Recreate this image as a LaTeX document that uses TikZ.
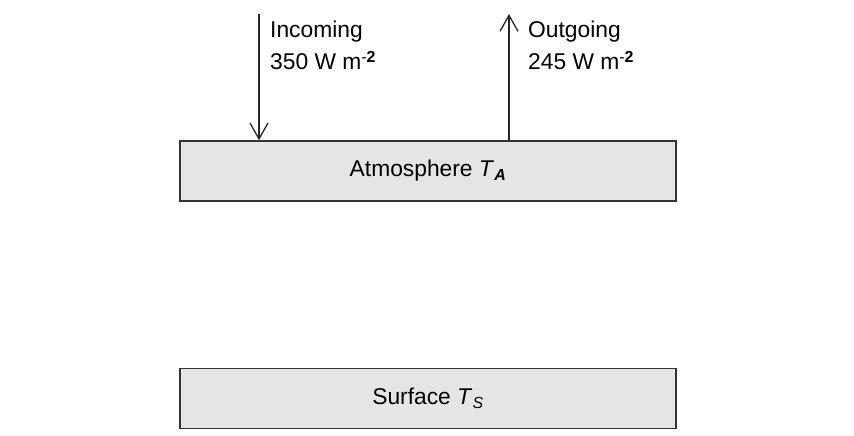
\documentclass[tikz,border=0pt]{standalone}
\usepackage{fontspec}
\setmainfont{Liberation Sans}
\usetikzlibrary{positioning}
\usetikzlibrary{arrows.meta}

\begin{document}
\begin{tikzpicture}[%
    x=1pt, y=-1pt,
    node distance=166pt,
    font=\fontsize{22.8}{32}\selectfont,
layer/.style={rectangle, align=center, draw=black!80, fill=black!10, line width=1.4pt, minimum width=496pt, minimum height=60pt, inner sep=0pt},
flux/.style={-{Straight Barb[length=16pt, width=18pt, line width=1.3pt]}, line width=1.3pt, draw=black!85},
fluxlabel/.style={align=left, anchor=north west, inner sep=0pt}
]

\useasboundingbox (0,0) rectangle (854,436);

% layers
\node[layer]      (atmosphere) at (428,171) {Atmosphere \textit{T}\textsubscript{\textbf{\textit{A}}}};
\node[layer]      (surface) [below=of atmosphere] {Surface \textit{T}\textsubscript{\textit{S}}};

% fluxes at the top
\coordinate (insrc) at (259,14);
\coordinate (outtip) at (509,14);

\draw[flux] (insrc) -- (insrc |- atmosphere.north);
\draw[flux] (outtip |- atmosphere.north) -- (outtip);

% labels
\node[fluxlabel]      (inlabel) at (270,21) {Incoming\\350 W m\textsuperscript{-\textbf{2}}};
\node[fluxlabel]      (outlabel) at (528,21) {Outgoing\\245 W m\textsuperscript{-\textbf{2}}};

\end{tikzpicture}
\end{document}
